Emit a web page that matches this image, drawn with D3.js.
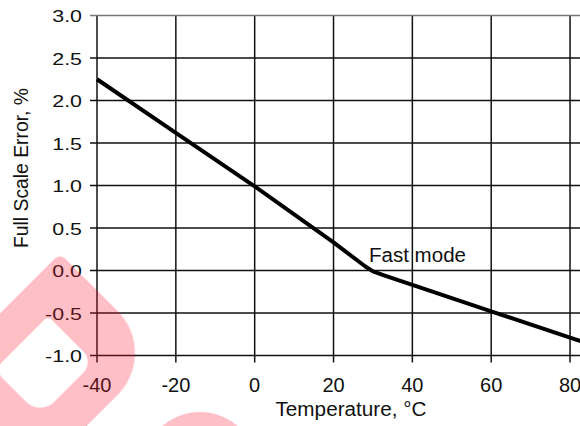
<!DOCTYPE html>
<html>
<head>
<meta charset="utf-8">
<script src="https://cdn.jsdelivr.net/npm/d3@7"></script>
<style>
  html, body { margin: 0; padding: 0; background: #fff; }
  svg { display: block; }
  text { font-family: "Liberation Sans", Arial, sans-serif; fill: #111; }
</style>
</head>
<body>
<svg id="chart" width="580" height="426"></svg>
<script>
// ---- data ----
const temperatures = [-40, -20, 0, 10, 20, 28, 30, 33, 40, 60, 80, 86];
const fullScaleError = [2.25, 1.62, 0.99, 0.66, 0.33, 0.05, -0.01, -0.06, -0.17, -0.48, -0.79, -0.88];
const xTicks = [-40, -20, 0, 20, 40, 60, 80];
const xTickLabels = ["-40", "-20", "0", "20", "40", "60", "80"];
const yTicks = [-1.0, -0.5, 0.0, 0.5, 1.0, 1.5, 2.0, 2.5, 3.0];
const yTickLabels = ["-1.0", "-0.5", "0.0", "0.5", "1.0", "1.5", "2.0", "2.5", "3.0"];
const xTitle = "Temperature, °C";
const yTitle = "Full Scale Error, %";
const annotation = { text: "Fast mode", t: 29, v: 0.1 };

// ---- layout ----
const svg = d3.select("#chart");
svg.append("rect").attr("width", 580).attr("height", 426).attr("fill", "#fff");

const x = d3.scaleLinear().domain([-40, 100]).range([97, 97 + 140 * 3.942]);
const y = d3.scaleLinear().domain([-1, 3]).range([355.5, 15.5]);
const tick = 7;

// vertical gridlines (extend below axis as tick marks)
svg.append("g").selectAll("line").data(xTicks).join("line")
  .attr("x1", d => x(d)).attr("x2", d => x(d))
  .attr("y1", y(3)).attr("y2", y(-1) + tick)
  .attr("stroke", "#111").attr("stroke-width", 1.5);

// horizontal gridlines (extend left of axis as tick marks)
svg.append("g").selectAll("line").data(yTicks).join("line")
  .attr("x1", x(-40) - tick).attr("x2", 580)
  .attr("y1", d => y(d)).attr("y2", d => y(d))
  .attr("stroke", d => d === 3 ? "#777" : "#111").attr("stroke-width", 1.5);

// x tick labels
svg.append("g").selectAll("text").data(xTicks).join("text")
  .attr("x", d => x(d)).attr("y", y(-1) + 36.5)
  .attr("text-anchor", "middle").attr("font-size", 20)
  .text((d, i) => xTickLabels[i]);

// y tick labels (wide face)
svg.append("g").selectAll("text").data(yTicks).join("text")
  .attr("transform", d => `translate(82,${y(d) + 6.5}) scale(1.26,1)`)
  .attr("text-anchor", "end").attr("font-size", 17)
  .text((d, i) => yTickLabels[i]);

// titles
svg.append("text").attr("x", 351).attr("y", 416)
  .attr("text-anchor", "middle").attr("font-size", 20)
  .attr("textLength", 151).attr("lengthAdjust", "spacingAndGlyphs")
  .text(xTitle);
svg.append("text").attr("transform", "translate(28,168) rotate(-90)")
  .attr("text-anchor", "middle").attr("font-size", 20)
  .attr("textLength", 160).attr("lengthAdjust", "spacingAndGlyphs")
  .text(yTitle);

// data line
const pts = temperatures.map((t, i) => [t, fullScaleError[i]]);
svg.append("path").datum(pts)
  .attr("fill", "none").attr("stroke", "#000").attr("stroke-width", 4)
  .attr("stroke-linejoin", "round")
  .attr("d", d3.line().x(d => x(d[0])).y(d => y(d[1])));

// annotation
svg.append("text").attr("x", x(annotation.t)).attr("y", y(annotation.v))
  .attr("font-size", 20).attr("textLength", 97).attr("lengthAdjust", "spacingAndGlyphs")
  .text(annotation.text);

// ---- decorative watermark overlay ----
function rr(x0, y0, x1, y1, r) {
  const [tl, tr, br, bl] = r;
  return `M${x0 + tl},${y0} H${x1 - tr} A${tr},${tr} 0 0 1 ${x1},${y0 + tr} V${y1 - br} ` +
         `A${br},${br} 0 0 1 ${x1 - br},${y1} H${x0 + bl} A${bl},${bl} 0 0 1 ${x0},${y1 - bl} ` +
         `V${y0 + tl} A${tl},${tl} 0 0 1 ${x0 + tl},${y0} Z`;
}
const wm = svg.append("g").attr("opacity", 0.28).attr("fill", "#ff1a33");
wm.append("path")
  .attr("transform", "translate(48,360) rotate(45)")
  .attr("fill-rule", "evenodd")
  .attr("d", rr(-67, -84, 74, 100, [8, 60, 45, 20]) + " " + rr(-31, -31, 34, 45, [5, 15, 20, 10]));
wm.append("circle").attr("cx", 200).attr("cy", 470).attr("r", 58);
</script>
</body>
</html>
